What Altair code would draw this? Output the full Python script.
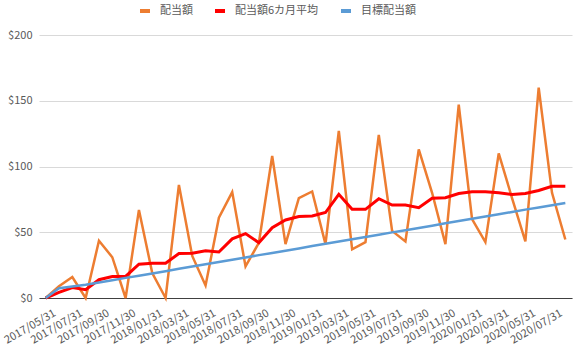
import altair as alt
import pandas as pd

dates = [
    "2017/05/31", "2017/06/30", "2017/07/31", "2017/08/31", "2017/09/30", "2017/10/31",
    "2017/11/30", "2017/12/31", "2018/01/31", "2018/02/28", "2018/03/31", "2018/04/30",
    "2018/05/31", "2018/06/30", "2018/07/31", "2018/08/31", "2018/09/30", "2018/10/31",
    "2018/11/30", "2018/12/31", "2019/01/31", "2019/02/28", "2019/03/31", "2019/04/30",
    "2019/05/31", "2019/06/30", "2019/07/31", "2019/08/31", "2019/09/30", "2019/10/31",
    "2019/11/30", "2019/12/31", "2020/01/31", "2020/02/29", "2020/03/31", "2020/04/30",
    "2020/05/31", "2020/06/30", "2020/07/31", "2020/08/31",
]

dividend = [
    0, 9, 16, 0, 43.5, 31, 0, 67, 19, 0,
    86, 32, 9.5, 61, 80.5, 24, 42, 108, 41, 76,
    81, 41, 127, 37, 42.5, 124, 51, 43, 113, 80,
    41, 147, 60, 42.5, 110, 76, 43, 160, 80, 44.5,
]

avg6 = [
    0, 4.3, 8, 6.3, 13.9, 16.4, 16.4, 25.7, 26.4, 26.4,
    33.8, 34, 35.9, 35, 45, 49, 42, 53.5, 59.3, 61.9,
    62.4, 65, 78.8, 67.4, 67.4, 75.5, 70.7, 70.7, 68.7, 75.8,
    76.3, 79.5, 80.8, 80.8, 80, 78.8, 79.5, 81.8, 85, 85,
]

target = [
    0, 7.5, 8.8, 10.1, 11.8, 13.5, 15.3, 17.0, 18.7, 20.4,
    22.2, 23.9, 25.6, 27.4, 29.1, 30.8, 32.6, 34.3, 36.0, 37.7,
    39.5, 41.2, 42.9, 44.7, 46.4, 48.1, 49.9, 51.6, 53.3, 55.0,
    56.8, 58.5, 60.2, 62.0, 63.7, 65.4, 67.2, 68.9, 70.6, 72.3,
]

series_names = ["配当額", "配当額6カ月平均", "目標配当額"]
series_colors = ["#ED7D31", "#FF0000", "#5B9BD5"]
series_widths = [2.5, 3, 2.5]
y_ticks = [0, 50, 100, 150, 200]

rows = []
for name, vals in zip(series_names, [dividend, avg6, target]):
    for d, v in zip(dates, vals):
        rows.append({"date": d, "series": name, "value": v})
df = pd.DataFrame(rows)

FONT = "Noto Sans CJK JP"
GRAY = "#595959"

x_enc = alt.X(
    "date:O",
    sort=dates,
    scale=alt.Scale(type="point", padding=0.5),
    axis=alt.Axis(
        title=None,
        values=dates[::2],
        labelAngle=-30,
        labelAlign="right",
        labelBaseline="top",
        labelPadding=9,
        labelOffset=6,
        labelFontSize=11,
        labelColor=GRAY,
        labelFont=FONT,
        ticks=False,
        grid=False,
        domainColor="#404040",
        domainWidth=1,
        labelOverlap=False,
    ),
)
y_enc = alt.Y(
    "value:Q",
    scale=alt.Scale(domain=[0, 200], nice=False),
    axis=alt.Axis(
        title=None,
        values=y_ticks,
        format="$d",
        labelFontSize=11,
        labelColor=GRAY,
        labelFont=FONT,
        labelPadding=7,
        ticks=False,
        domain=False,
        gridColor="#D9D9D9",
        gridWidth=1,
    ),
)
color_enc = alt.Color(
    "series:N",
    scale=alt.Scale(domain=series_names, range=series_colors),
    legend=alt.Legend(
        title=None,
        orient="none",
        legendX=99,
        legendY=-31,
        direction="horizontal",
        symbolType="stroke",
        symbolStrokeWidth=4,
        symbolSize=100,
        labelFontSize=11,
        labelColor=GRAY,
        labelFont=FONT,
        labelOffset=8,
        columnPadding=14,
    ),
)

layers = []
for name, w in zip(series_names, series_widths):
    layers.append(
        alt.Chart(df)
        .transform_filter(alt.datum.series == name)
        .mark_line(strokeWidth=w)
        .encode(x=x_enc, y=y_enc, color=color_enc)
    )

chart = (
    alt.layer(*layers)
    .properties(
        width=533,
        height=263,
        autosize=alt.AutoSizeParams(type="none"),
        padding={"left": 39, "top": 35, "right": 3, "bottom": 53},
        background="white",
    )
    .configure_view(stroke=None)
)

chart.save("out.html", embed_options={"renderer": "svg", "actions": False})
